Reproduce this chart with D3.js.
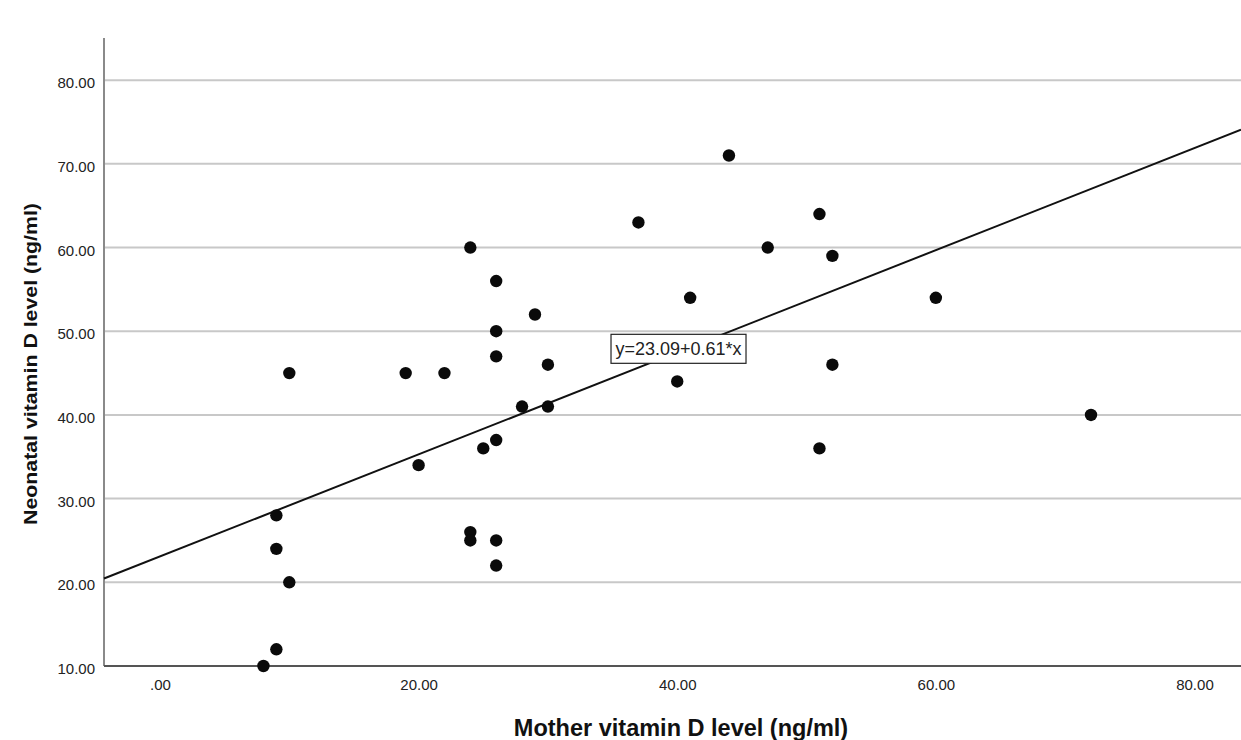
<!DOCTYPE html>
<meta charset="utf-8">
<script src="https://cdnjs.cloudflare.com/ajax/libs/d3/7.3.0/d3.min.js"></script>
<style>
  body { margin: 0; background: #fff; }
  text { font-family: "Liberation Sans", Arial, sans-serif; }
</style>
<div id="my_dataviz"></div>
<script>

    // data
    const motherVitD = [8, 9, 10, 9, 9, 10, 19, 20, 22, 24, 24, 24, 25, 26, 26, 26, 26, 26, 26,
        28, 29, 30, 30, 37, 40, 41, 44, 47, 51, 51, 52, 52, 60, 72];
    const neonatalVitD = [10, 12, 20, 24, 28, 45, 45, 34, 45, 60, 26, 25, 36, 56, 50, 47, 37, 25, 22,
        41, 52, 46, 41, 63, 44, 54, 71, 60, 64, 36, 59, 46, 54, 40];
    const xTicks = [0, 20, 40, 60, 80];
    const yTicks = [10, 20, 30, 40, 50, 60, 70, 80];
    const intercept = 23.09, slope = 0.61;
    const fitLabel = "y=23.09+0.61*x";

    var width = 1241, height = 740;
    var margin = { top: 40, right: 0, bottom: 74, left: 104 };

    var svg = d3.select("#my_dataviz")
        .append("svg")
        .attr("width", width)
        .attr("height", height);

    var x = d3.scaleLinear()
        .domain([-4.33, 83.6])
        .range([margin.left, width - margin.right]);
    var y = d3.scaleLinear()
        .domain([10, 84.8])
        .range([height - margin.bottom, margin.top]);

    // horizontal grid
    svg.append("g")
        .selectAll("line")
        .data(yTicks.slice(1))
        .join("line")
        .attr("x1", margin.left)
        .attr("x2", width - margin.right)
        .attr("y1", d => y(d))
        .attr("y2", d => y(d))
        .attr("stroke", "#c8c8c8")
        .attr("stroke-width", 2);

    // y axis
    var yAxis = svg.append("g")
        .attr("transform", "translate(" + margin.left + ",0)")
        .call(d3.axisLeft(y).tickValues(yTicks).tickSize(0).tickPadding(9).tickFormat(d3.format(".2f")));
    yAxis.select(".domain").attr("stroke", "#8a8a8a").attr("stroke-width", 2)
        .attr("d", "M0," + y(10) + "V" + (margin.top - 2));
    yAxis.selectAll("text").attr("font-size", 15).attr("fill", "#222").attr("dy", "0.5em")
        .attr("font-family", "Liberation Sans, Arial, sans-serif");

    // x axis
    var xAxis = svg.append("g")
        .attr("transform", "translate(0," + y(10) + ")")
        .call(d3.axisBottom(x).tickValues(xTicks).tickSize(0).tickPadding(13)
            .tickFormat(d => d === 0 ? ".00" : d3.format(".2f")(d)));
    xAxis.select(".domain").attr("stroke", "#555").attr("stroke-width", 2)
        .attr("d", "M" + margin.left + ",0H" + width);
    xAxis.selectAll("text").attr("font-size", 15).attr("fill", "#222")
        .attr("font-family", "Liberation Sans, Arial, sans-serif");

    // fit line
    var xd = x.domain();
    svg.append("line")
        .attr("x1", x(xd[0])).attr("y1", y(intercept + slope * xd[0]))
        .attr("x2", x(xd[1])).attr("y2", y(intercept + slope * xd[1]))
        .attr("stroke", "#111")
        .attr("stroke-width", 2);

    // points
    svg.append("g")
        .selectAll("circle")
        .data(motherVitD.map((m, i) => [m, neonatalVitD[i]]))
        .join("circle")
        .attr("cx", d => x(d[0]))
        .attr("cy", d => y(d[1]))
        .attr("r", 6.2)
        .attr("fill", "#0a0a0a");

    // equation label
    var lbl = svg.append("g")
        .attr("transform", "translate(" + x(40.1) + "," + y(47.9) + ")");
    lbl.append("rect")
        .attr("x", -67.5).attr("y", -14.5)
        .attr("width", 135).attr("height", 29)
        .attr("fill", "#fff")
        .attr("stroke", "#222")
        .attr("stroke-width", 1.2);
    lbl.append("text")
        .attr("text-anchor", "middle")
        .attr("y", 6.5)
        .attr("font-size", 18)
        .attr("fill", "#222")
        .text(fitLabel);

    // axis titles
    svg.append("text")
        .attr("transform", "translate(681,736) scale(0.96,1)")
        .attr("text-anchor", "middle")
        .attr("font-size", 24.5)
        .attr("font-weight", "bold")
        .attr("fill", "#111")
        .text("Mother vitamin D level (ng/ml)");

    svg.append("text")
        .attr("transform", "translate(37,364) rotate(-90) scale(1,0.86)")
        .attr("text-anchor", "middle")
        .attr("font-size", 21.3)
        .attr("font-weight", "bold")
        .attr("fill", "#111")
        .text("Neonatal vitamin D level (ng/ml)");

</script>
